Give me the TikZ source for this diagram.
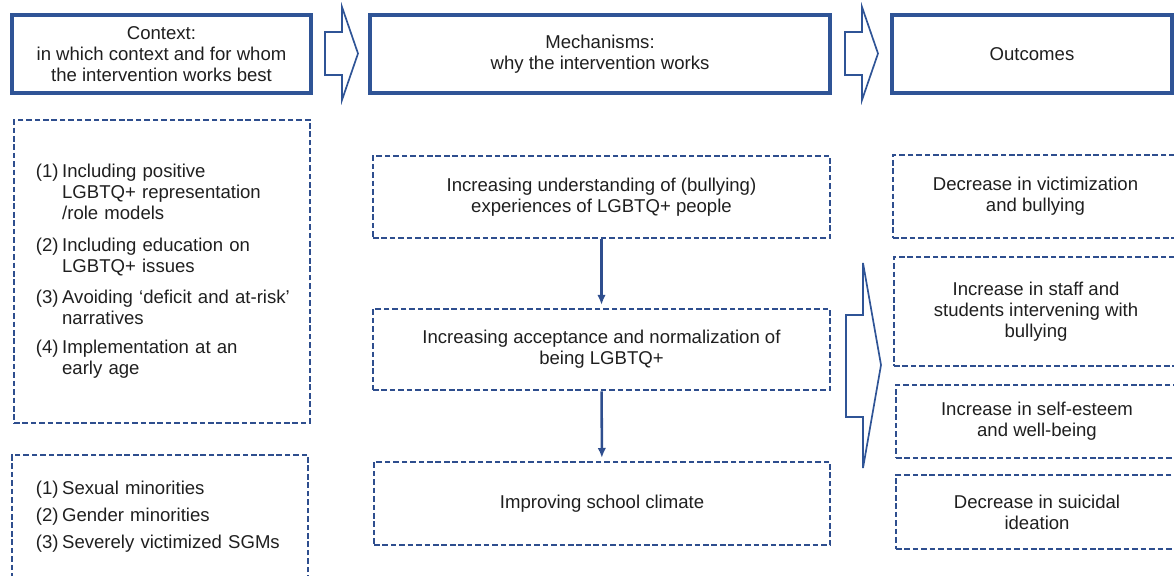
\documentclass[tikz,border=0pt]{standalone}
\usepackage{fontspec}
\setmainfont{Liberation Sans}
\usetikzlibrary{arrows.meta}
\usepackage{xcolor}
\definecolor{frameblue}{HTML}{2F5496}
\definecolor{dashblue}{HTML}{2E4E8E}

\begin{document}
\begin{tikzpicture}[x=0.025cm,y=-0.025cm,
  every node/.style={font=\fontsize{13.2}{14.9}\selectfont,text=black!88},
  headbox/.style={draw=frameblue,line width=2.3pt,align=center,inner sep=0pt},
  dashbox/.style={draw=dashblue,line width=1.9pt,dash pattern=on 4pt off 2pt,align=center,inner sep=0pt},
  blockarrow/.style={draw=frameblue,line width=1.2pt,line join=miter},
  flow/.style={draw=dashblue,line width=1.8pt,shorten >=2pt,-{Latex[length=7pt,width=6pt]}}]
  \useasboundingbox (0,0) rectangle (1174,576);
  % Headings
  \node[headbox,minimum width=7.475cm,minimum height=1.95cm] (ctxhead) at (161.5,54)
    {Context:\\in which context and for whom\\the intervention works best};
  \node[headbox,minimum width=11.5cm,minimum height=1.95cm] (mechhead) at (600,54)
    {Mechanisms:\\why the intervention works};
  \node[headbox,minimum width=7cm,minimum height=1.95cm] (outhead) at (1032,54) {Outcomes};
  % Block arrows between headings
  \foreach \dx in {0,520}
    \draw[blockarrow,shift={(\dx,0)}] (325,32) -- (342,32) -- (342,7) -- (358,53.5)
      -- (342,100) -- (342,75) -- (325,75) -- cycle;
  % Context
  \node[dashbox,text width=6.3cm,inner xsep=0.55cm,minimum height=7.575cm,align=left] (ctxlist) at (162,271.5)
    {\begin{tabular}{@{}l@{\hspace{2.5pt}}l@{}}
      (1) & Including positive\\ & LGBTQ+ representation\\ & /role models\\[8.5pt]
      (2) & Including education on\\ & LGBTQ+ issues\\[7pt]
      (3) & Avoiding ‘deficit and at-risk’\\ & narratives\\[5.5pt]
      (4) & Implementation at an\\ & early age
    \end{tabular}};
  \node[dashbox,text width=6.2cm,inner xsep=0.6cm,minimum height=3.125cm,align=left] (ctxgroup) at (160,517.5)
    {\begin{tabular}{@{}l@{\hspace{2.5pt}}l@{}}
      (1) & Sexual minorities\\[4.3pt]
      (2) & Gender minorities\\[4.3pt]
      (3) & Severely victimized SGMs
    \end{tabular}};
  % Mechanisms
  \node[dashbox,minimum width=11.425cm,minimum height=2.05cm] (mechA) at (601.5,197)
    {Increasing understanding of (bullying)\\experiences of LGBTQ+ people};
  \node[dashbox,minimum width=11.425cm,minimum height=2.025cm] (mechB) at (601.5,349.5)
    {Increasing acceptance and normalization of\\being LGBTQ+};
  \node[dashbox,minimum width=11.4cm,minimum height=2.075cm] (mechC) at (602,503.5)
    {Improving school climate};
  \draw[flow] (mechA) -- (mechB);
  \draw[flow] (mechB) -- (mechC);
  % Outcomes
  \node[dashbox,minimum width=7.125cm,minimum height=2.075cm] (outA) at (1035.5,196.5)
    {Decrease in victimization\\and bullying};
  \node[dashbox,minimum width=7.1cm,minimum height=2.725cm] (outB) at (1036,311.5)
    {Increase in staff and\\students intervening with\\bullying};
  \node[dashbox,minimum width=7.05cm,minimum height=1.825cm] (outC) at (1037,421.5)
    {Increase in self-esteem\\and well-being};
  \node[dashbox,minimum width=7.05cm,minimum height=1.85cm] (outD) at (1037,512)
    {Decrease in suicidal\\ideation};
  % Arrow into outcomes
  \draw[blockarrow] (846,315) -- (863,315) -- (863,263) -- (881,365)
    -- (863,468) -- (863,417) -- (846,417) -- cycle;
\end{tikzpicture}
\end{document}
